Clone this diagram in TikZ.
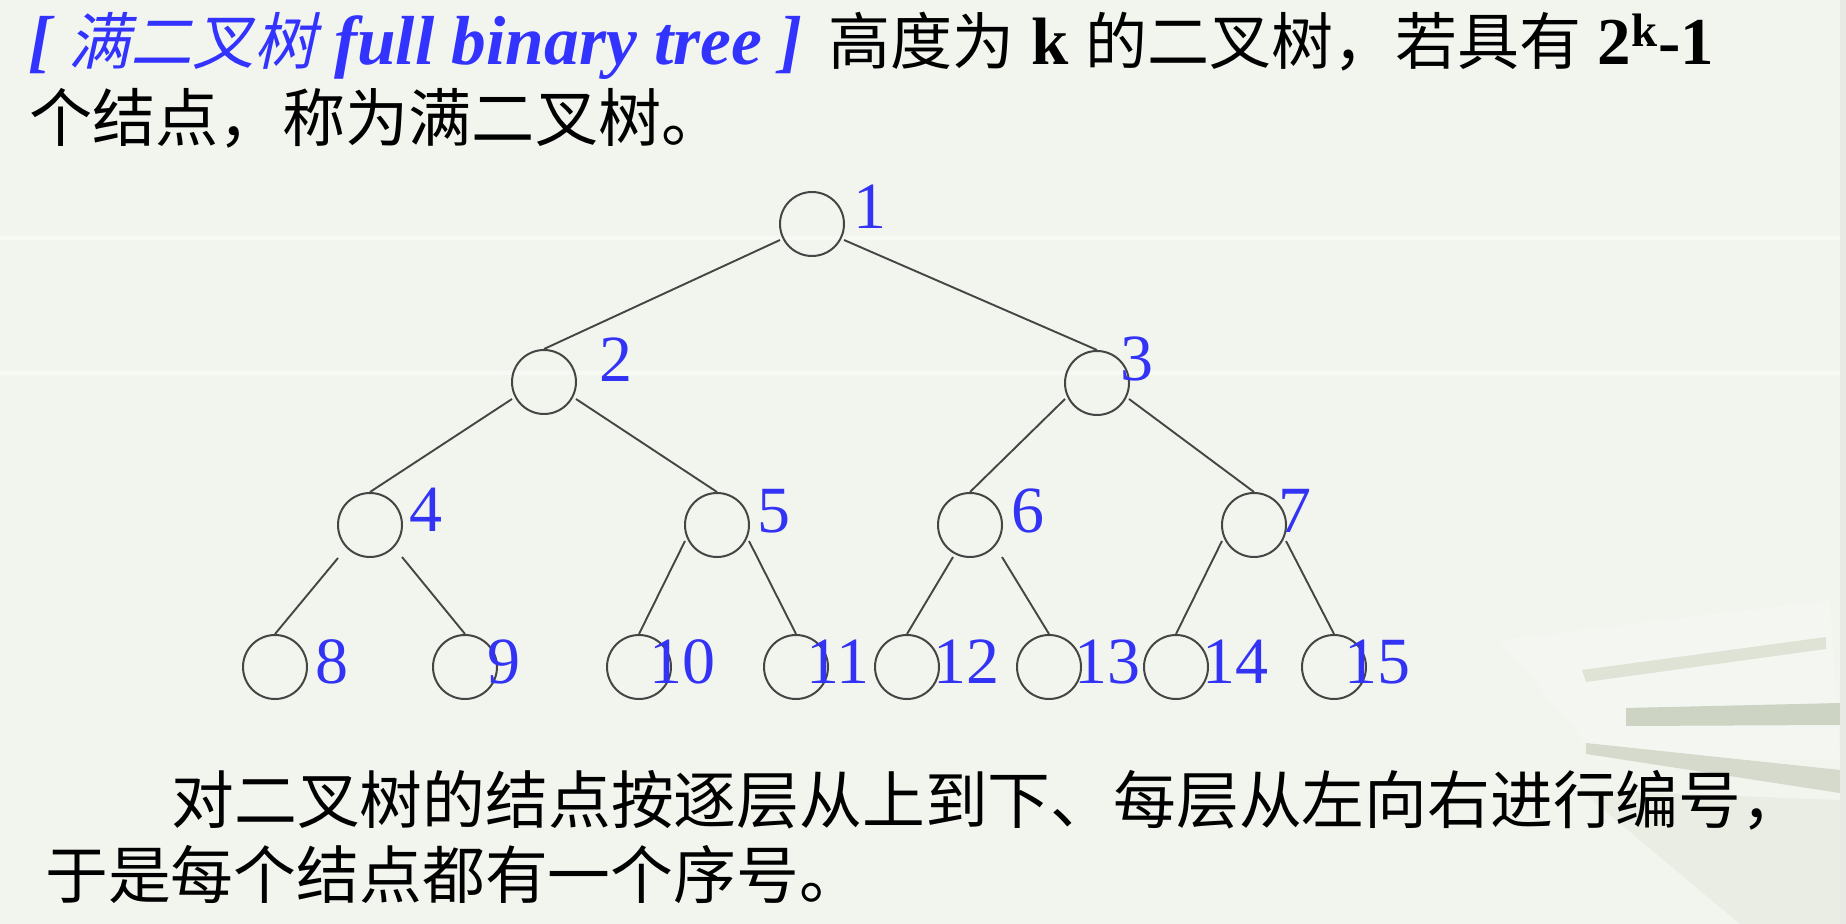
\documentclass[tikz,border=0pt]{standalone}
\usepackage{fontspec}
\setmainfont{Liberation Serif}
\newfontfamily\cjk{Noto Sans CJK SC}
\newfontfamily\cjkslant[FakeSlant=0.22]{Noto Sans CJK SC}
\usetikzlibrary{calc}
\definecolor{bgcol}{HTML}{F2F5EE}
\definecolor{titleblue}{HTML}{3333FF}
\definecolor{labelblue}{HTML}{3333F5}
\definecolor{edgecol}{HTML}{454545}
\definecolor{barA}{HTML}{DEE3D6}
\definecolor{barB}{HTML}{CED4C4}
\definecolor{barC}{HTML}{D5DACC}
\definecolor{shadecol}{HTML}{E4E8DD}
\definecolor{stripcol}{HTML}{E8E9E5}
\tikzset{
  treenode/.style={circle, draw=edgecol, line width=1pt, minimum size=32pt, inner sep=0pt},
  numlabel/.style={text=labelblue, inner sep=0pt, font=\fontsize{33}{33}\selectfont},
  edge/.style={draw=edgecol, line width=0.95pt},
  txt/.style={anchor=base west, inner sep=0pt},
  cjkbig/.style={font=\cjk\fontsize{31.6}{36}\selectfont},
}
\begin{document}
\begin{tikzpicture}[x=0.5pt,y=-0.5pt]
\useasboundingbox (0,0) rectangle (1846,924);
% background
\fill[bgcol] (0,0) rectangle (1846,924);
\fill[white, opacity=0.45] (0,236) rectangle (1846,240);
\fill[white, opacity=0.45] (0,371) rectangle (1846,375);
\fill[white, opacity=0.18] (1500,640) -- (1830,600) -- (1840,760) -- (1600,760) -- cycle;
\fill[shadecol, opacity=0.6] (1580,790) -- (1840,800) -- (1840,924) -- (1740,924) -- cycle;
\fill[barA] (1582,670) -- (1826,637) -- (1826,649) -- (1586,682) -- cycle;
\fill[barB] (1626,708) -- (1840,703) -- (1840,725) -- (1626,726) -- cycle;
\fill[barC] (1586,743) -- (1840,770) -- (1840,793) -- (1586,754) -- cycle;
\fill[stripcol] (1840,0) rectangle (1846,924);

% title text
\node[txt, text=titleblue] (title) at (28,65)
  {\fontsize{34.7}{40}\selectfont\bfseries\itshape [ {\cjkslant\mdseries\fontsize{31}{36}\selectfont 满二叉树} full binary tree ]};
\node[txt] (def) at (828,65)
  {{\cjk\fontsize{31}{36}\selectfont 高度为}{\fontsize{33.5}{40}\selectfont\bfseries\ k\ }{\cjk\fontsize{31}{36}\selectfont 的二叉树，若具有}{\fontsize{33.5}{40}\selectfont\bfseries\ 2\textsuperscript{k}-1}};
\node[txt, cjkbig] (def2) at (29,142) {个结点，称为满二叉树。};

% tree nodes
\node[treenode] (n1) at (812,224) {};
\node[treenode] (n2) at (544,382) {};
\node[treenode] (n3) at (1097,383) {};
\node[treenode] (n4) at (370,525) {};
\node[treenode] (n5) at (717,525) {};
\node[treenode] (n6) at (970,525) {};
\node[treenode] (n7) at (1254,525) {};
\node[treenode] (n8) at (275,667) {};
\node[treenode] (n9) at (465,667) {};
\node[treenode] (n10) at (639,667) {};
\node[treenode] (n11) at (796,667) {};
\node[treenode] (n12) at (907,667) {};
\node[treenode] (n13) at (1049,667) {};
\node[treenode] (n14) at (1176,667) {};
\node[treenode] (n15) at (1334,667) {};

% edges
\draw[edge] ($(n1)+(-32,16)$) -- (n2.north);
\draw[edge] ($(n1)+(32,16)$) -- (n3.north);
\draw[edge] ($(n2)+(-32,17)$) -- (n4.north);
\draw[edge] ($(n2)+(32,17)$) -- (n5.north);
\draw[edge] ($(n3)+(-32,16)$) -- (n6.north);
\draw[edge] ($(n3)+(32,16)$) -- (n7.north);
\draw[edge] ($(n4)+(-32,33)$) -- (n8.north);
\draw[edge] ($(n4)+(32,32)$) -- (n9.north);
\draw[edge] ($(n5)+(-32,16)$) -- (n10.north);
\draw[edge] ($(n5)+(32,16)$) -- (n11.north);
\draw[edge] ($(n6)+(-17,32)$) -- (n12.north);
\draw[edge] ($(n6)+(32,32)$) -- (n13.north);
\draw[edge] ($(n7)+(-32,16)$) -- (n14.north);
\draw[edge] ($(n7)+(32,16)$) -- (n15.north);

% labels
\node[numlabel] (l1) at (870,207) {1};
\node[numlabel] (l2) at (616,360) {2};
\node[numlabel] (l3) at (1137,359) {3};
\node[numlabel] (l4) at (426,510) {4};
\node[numlabel] (l5) at (774,511) {5};
\node[numlabel] (l6) at (1028,511) {6};
\node[numlabel] (l7) at (1295,511) {7};
\node[numlabel] (l8) at (332,662) {8};
\node[numlabel] (l9) at (504,662) {9};
\node[numlabel] (l10) at (682,662) {10};
\node[numlabel] (l11) at (838,662) {11};
\node[numlabel] (l12) at (966,662) {12};
\node[numlabel] (l13) at (1107,662) {13};
\node[numlabel] (l14) at (1235,662) {14};
\node[numlabel] (l15) at (1377,662) {15};

% bottom paragraph
\node[txt, font=\cjk\fontsize{31.4}{36}\selectfont] (para1) at (171,823) {对二叉树的结点按逐层从上到下、每层从左向右进行编号，};
\node[txt, font=\cjk\fontsize{31.4}{36}\selectfont] (para2) at (45,898) {于是每个结点都有一个序号。};
\end{tikzpicture}
\end{document}
